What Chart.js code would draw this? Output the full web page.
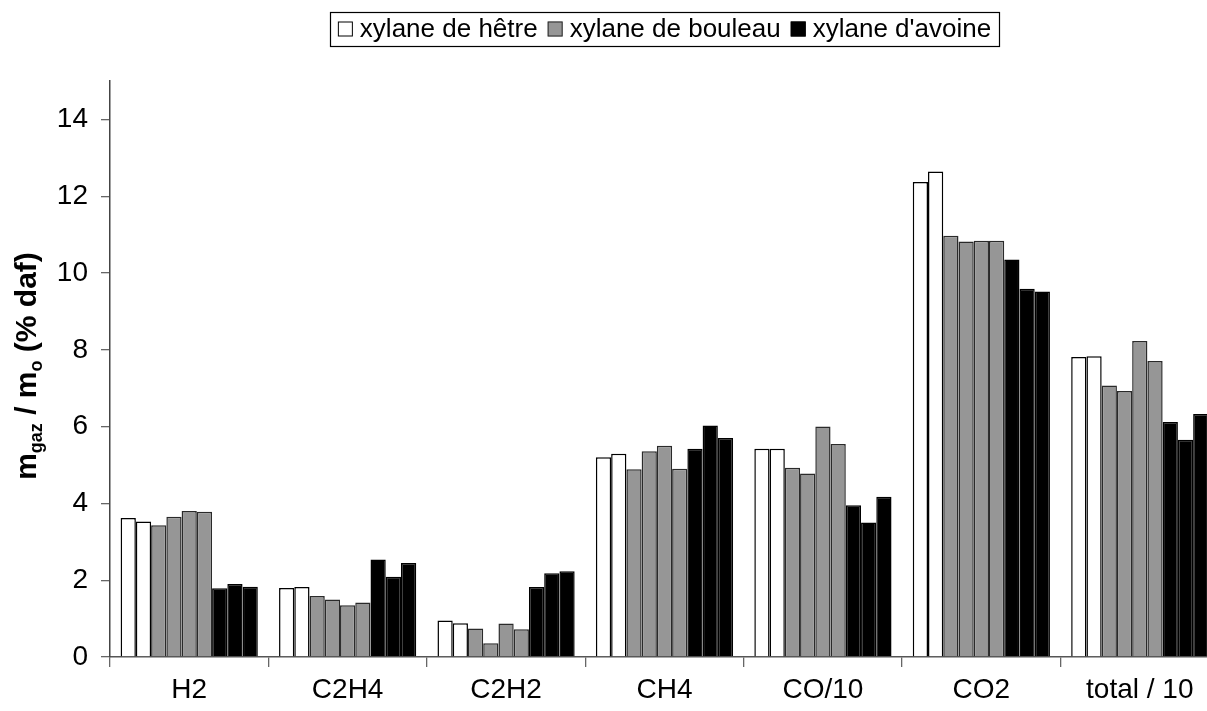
<!DOCTYPE html>
<html>
<head>
<meta charset="utf-8">
<script src="https://cdn.jsdelivr.net/npm/chart.js@4/dist/chart.umd.min.js"></script>
<style>
  html, body { margin: 0; padding: 0; background: #fff; overflow: hidden; }
  #wrap { position: relative; width: 1219px; height: 711px; }
</style>
</head>
<body>
<div id="wrap"><canvas id="c" width="1219" height="711"></canvas></div>
<script>
// Gas yields per species (mass %, daf); CO and total are divided by 10
const categories = ['H2', 'C2H4', 'C2H2', 'CH4', 'CO/10', 'CO2', 'total / 10'];

const seriesNames = ['xylane de hêtre', 'xylane de bouleau', "xylane d'avoine"];

// repeated runs for each xylan
const hetre1   = [3.62, 1.80, 0.95, 5.20, 5.42, 12.37, 7.81];
const hetre2   = [3.53, 1.82, 0.88, 5.29, 5.42, 12.64, 7.83];
const bouleau1 = [3.43, 1.59, 0.74, 4.89, 4.93, 10.97, 7.07];
const bouleau2 = [3.65, 1.50, 0.36, 5.36, 4.78, 10.82, 6.93];
const bouleau3 = [3.80, 1.35, 0.87, 5.50, 6.00, 10.84, 8.23];
const bouleau4 = [3.78, 1.42, 0.72, 4.90, 5.55, 10.84, 7.71];
const avoine1  = [1.79, 2.54, 1.82, 5.42, 3.95, 10.35, 6.12];
const avoine2  = [1.90, 2.09, 2.18, 6.03, 3.50, 9.59, 5.66];
const avoine3  = [1.83, 2.45, 2.23, 5.70, 4.17, 9.52, 6.33];

const yTicks = [0, 2, 4, 6, 8, 10, 12, 14];

const runs = [
  { group: 0, data: hetre1 },
  { group: 0, data: hetre2 },
  { group: 1, data: bouleau1 },
  { group: 1, data: bouleau2 },
  { group: 1, data: bouleau3 },
  { group: 1, data: bouleau4 },
  { group: 2, data: avoine1 },
  { group: 2, data: avoine2 },
  { group: 2, data: avoine3 }
];

const fills = ['#ffffff', '#969696', '#000000'];
const edges = ['#000000', '#2a2a2a', '#000000'];
const FONT = "'Liberation Sans', Arial, sans-serif";

const datasets = runs.map(r => ({
  label: seriesNames[r.group],
  data: r.data,
  backgroundColor: fills[r.group],
  borderColor: edges[r.group],
  borderWidth: 1.5,
  categoryPercentage: 0.866,
  barPercentage: 1.0
}));

// Boxed legend with one entry per xylan
const boxLegend = {
  id: 'boxLegend',
  afterDraw(chart) {
    const ctx = chart.ctx;
    ctx.save();
    ctx.font = '26px ' + FONT;
    const sw = 15, gapIn = 7, gapOut = 10, padX = 8;
    const widths = seriesNames.map(s => ctx.measureText(s).width);
    let total = 0;
    widths.forEach((w, i) => { total += sw + gapIn + w + (i < widths.length - 1 ? gapOut : 0); });
    const cx = 664.5, cy = 29;
    const left = cx - total / 2 - padX, right = cx + total / 2 + padX;
    ctx.strokeStyle = '#000';
    ctx.lineWidth = 1.2;
    ctx.strokeRect(Math.round(left) + 0.5, 12.5, Math.round(right - left), 34);
    let x = cx - total / 2;
    ctx.textBaseline = 'middle';
    ctx.textAlign = 'left';
    seriesNames.forEach((s, i) => {
      ctx.fillStyle = fills[i];
      ctx.fillRect(x, cy - sw / 2, sw, sw);
      ctx.strokeStyle = edges[i];
      ctx.lineWidth = 1;
      ctx.strokeRect(x + 0.5, cy - sw / 2 + 0.5, sw - 1, sw - 1);
      x += sw + gapIn;
      ctx.fillStyle = '#000';
      ctx.fillText(s, x, cy + 1);
      x += widths[i] + gapOut;
    });
    ctx.restore();
  }
};

// Vertical axis title with subscripts: m_gaz / m_o (% daf)
const yTitle = {
  id: 'yTitle',
  afterDraw(chart) {
    const ctx = chart.ctx;
    const area = chart.chartArea;
    const parts = [
      { t: 'm', sub: false },
      { t: 'gaz', sub: true },
      { t: ' / m', sub: false },
      { t: 'o', sub: true },
      { t: ' (% daf)', sub: false }
    ];
    const big = 'bold 30px ' + FONT, small = 'bold 18px ' + FONT;
    ctx.save();
    let total = 0;
    parts.forEach(p => { ctx.font = p.sub ? small : big; p.w = ctx.measureText(p.t).width; total += p.w; });
    const baseX = 36, midY = (area.top + area.bottom) / 2 - 3;
    ctx.translate(baseX, midY);
    ctx.rotate(-Math.PI / 2);
    ctx.fillStyle = '#000';
    ctx.textBaseline = 'alphabetic';
    ctx.textAlign = 'left';
    let x = -total / 2;
    parts.forEach(p => {
      ctx.font = p.sub ? small : big;
      ctx.fillText(p.t, x, p.sub ? 6 : 0);
      x += p.w;
    });
    ctx.restore();
  }
};

new Chart(document.getElementById('c'), {
  type: 'bar',
  data: { labels: categories, datasets },
  options: {
    responsive: false,
    animation: false,
    devicePixelRatio: 1,
    layout: { padding: { top: 81, right: 0, bottom: 0, left: 0 } },
    plugins: {
      legend: { display: false },
      tooltip: { enabled: false },
      title: { display: false }
    },
    scales: {
      x: {
        grid: {
          offset: true,
          drawOnChartArea: false,
          drawTicks: true,
          tickLength: 10,
          color: '#666',
          lineWidth: 1.3
        },
        border: { display: true, color: '#555', width: 1.5 },
        ticks: {
          color: '#000',
          padding: 6,
          font: { family: FONT, size: 28 }
        },
        afterFit(scale) { scale.height = 54; }
      },
      y: {
        min: 0,
        max: 15,
        afterBuildTicks(scale) {
          scale.ticks = yTicks.map(v => ({ value: v }));
        },
        grid: {
          drawOnChartArea: false,
          drawTicks: true,
          tickLength: 9,
          color: '#666',
          lineWidth: 1.3
        },
        border: { display: true, color: '#444', width: 1.5 },
        ticks: {
          color: '#000',
          padding: 13,
          font: { family: FONT, size: 28 }
        },
        afterFit(scale) { scale.width = 110; }
      }
    }
  },
  plugins: [boxLegend, yTitle]
});
</script>
</body>
</html>
